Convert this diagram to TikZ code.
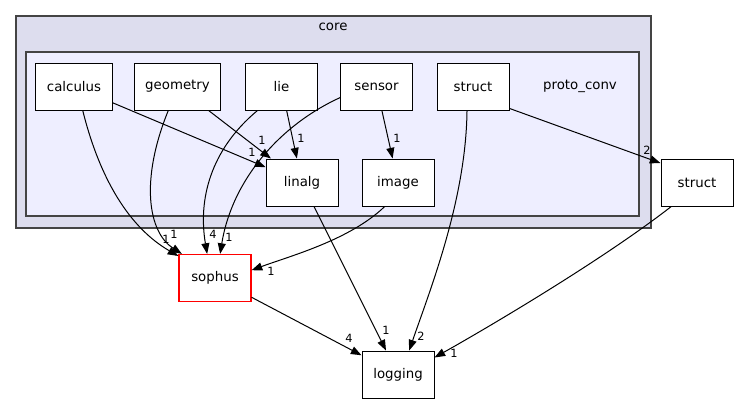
\documentclass[tikz,border=0pt]{standalone}
\usepackage{fontspec}
\setmainfont{DejaVu Sans}
\usetikzlibrary{arrows.meta}
\definecolor{CoreFill}{HTML}{DDDDEE}
\definecolor{ProtoFill}{HTML}{EEEEFF}
\definecolor{FrameGray}{HTML}{444444}

\begin{document}
\begin{tikzpicture}[
  x=0.75pt, y=-0.75pt,
  font=\fontsize{10}{12}\selectfont,
  dirbox/.style={draw=black, fill=white, line width=0.75pt, minimum width=54pt, minimum height=35.25pt, inner xsep=8.25pt},
  cluster/.style={draw=FrameGray, line width=1pt},
  dep/.style={-{Triangle[length=8pt, width=6pt]}, line width=0.75pt, black},
  cnt/.style={font=\fontsize{8.5}{9}\selectfont, inner sep=0pt}
]
\useasboundingbox (0,0) rectangle (739,404);
% clusters
\draw[cluster, fill=CoreFill] (16,16) rectangle (651,228);
\node (corelbl) at (333,27) {core};
\draw[cluster, fill=ProtoFill] (26,52) rectangle (639,216);
\node (protolbl) at (580,86) {proto\_conv};
% directories
\node[dirbox] (calculus) at (74,86.5) {calculus};
\node[dirbox] (geometry) at (177.5,86.5) {geometry};
\node[dirbox] (lie) at (281.5,86.5) {lie};
\node[dirbox] (sensor) at (376.5,86.5) {sensor};
\node[dirbox] (pcstruct) at (473,86.5) {struct};
\node[dirbox] (linalg) at (302,182.5) {linalg};
\node[dirbox] (image) at (398,182.5) {image};
\node[dirbox] (struct) at (697,182.5) {struct};
\node[dirbox, draw=red, line width=0.9pt] (sophus) at (215,278) {sophus};
\node[dirbox] (logging) at (398,374.5) {logging};
% dependencies
\draw[dep] (calculus) -- (linalg);
\draw[dep] (geometry) -- (linalg);
\draw[dep] (lie) -- (linalg);
\draw[dep] (sensor) -- (image);
\draw[dep] (linalg) -- (logging);
\draw[dep] (sophus) -- (logging);
\draw[dep] (pcstruct.-31) -- (struct.152);
\draw[dep] (calculus.290) .. controls (100,180) and (130,228) .. (sophus.149);
\draw[dep] (geometry.249) .. controls (140,180) and (148,232) .. (sophus.144);
\draw[dep] (lie.225) .. controls (210,150) and (198,200) .. (sophus.108);
\draw[dep] (sensor.197) .. controls (280,125) and (232,180) .. (sophus.78);
\draw[dep] (image.241) .. controls (350,240) and (290,256) .. (sophus.12);
\draw[dep] (pcstruct.256) .. controls (466,200) and (430,290) .. (logging.65);
\draw[dep] (struct.223) .. controls (600,262) and (480,332) .. (logging.25);
% counts
\node[cnt] (n1) at (252,152) {1};
\node[cnt] (n2) at (262,140) {1};
\node[cnt] (n3) at (301,138) {1};
\node[cnt] (n4) at (397,138) {1};
\node[cnt] (n5) at (166,239) {1};
\node[cnt] (n6) at (174,234) {1};
\node[cnt] (n7) at (213,234) {4};
\node[cnt] (n8) at (229,237) {1};
\node[cnt] (n9) at (271,271) {1};
\node[cnt] (n10) at (386,330) {1};
\node[cnt] (n11) at (421,336) {2};
\node[cnt] (n12) at (349,338) {4};
\node[cnt] (n13) at (454,353) {1};
\node[cnt] (n14) at (647,150) {2};
\end{tikzpicture}
\end{document}
